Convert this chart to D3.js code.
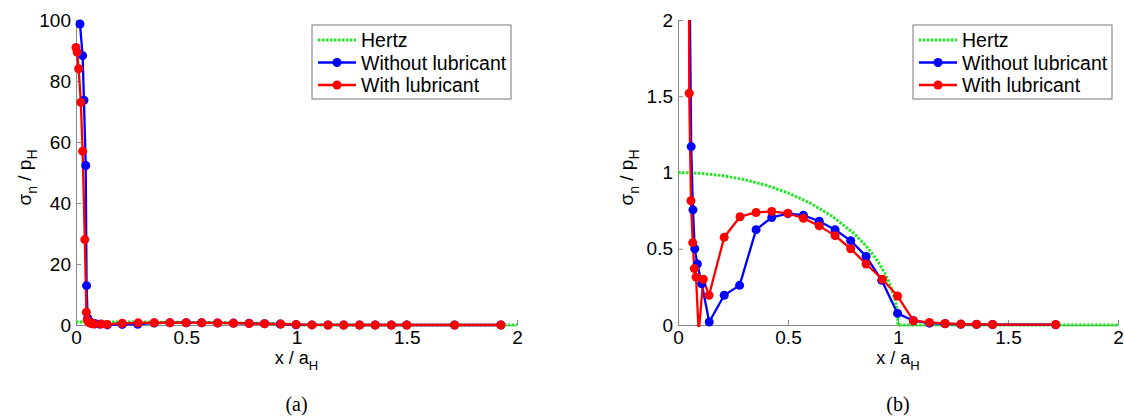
<!DOCTYPE html>
<html>
<head>
<meta charset="utf-8">
<script src="https://cdn.jsdelivr.net/npm/d3@7"></script>
<style>
body { margin: 0; background: #fff; }
text { font-family: 'Liberation Sans', Arial, sans-serif; fill: #000; }
</style>
</head>
<body>
<svg></svg>
<script>
// Hertz reference curve
const hertzX = [0, 0.1, 0.2, 0.3, 0.4, 0.5, 0.6, 0.7, 0.8, 0.85, 0.9, 0.94, 0.97, 0.985, 0.995, 0.999, 1.0, 1.5, 2.0]
const hertzY = [1, 0.995, 0.98, 0.954, 0.917, 0.866, 0.8, 0.714, 0.6, 0.527, 0.436, 0.341, 0.243, 0.173, 0.1, 0.04, 0, 0, 0]

// without lubricant
const blueX = [0.018, 0.030, 0.036, 0.044, 0.048, 0.053, 0.060, 0.068, 0.076, 0.088, 0.108, 0.142,
  0.21, 0.28, 0.355, 0.426, 0.50, 0.57, 0.642, 0.714, 0.785, 0.855, 0.926, 0.998,
  1.07, 1.143, 1.214, 1.286, 1.357, 1.43, 1.717]
const blueY = [98.7, 88.3, 73.7, 52.3, 12.9, 2.2, 1.17, 0.755, 0.50, 0.40, 0.27, 0.02,
  0.195, 0.26, 0.625, 0.705, 0.73, 0.72, 0.68, 0.625, 0.553, 0.45, 0.293, 0.076,
  0.028, 0.012, 0.008, 0.005, 0.004, 0.003, 0.002]

// with lubricant
const redX = [0.0, 0.005, 0.012, 0.022, 0.030, 0.040, 0.047, 0.051, 0.059, 0.067, 0.074, 0.082, 0.094, 0.115, 0.141,
  0.21, 0.282, 0.355, 0.426, 0.499, 0.57, 0.642, 0.714, 0.785, 0.855, 0.929, 0.998,
  1.07, 1.143, 1.214, 1.286, 1.357, 1.43, 1.717]
const redY = [91, 89.5, 84, 73, 57, 28, 4.2, 1.52, 0.815, 0.54, 0.37, 0.315, -0.05, 0.30, 0.195,
  0.575, 0.71, 0.738, 0.745, 0.732, 0.70, 0.65, 0.586, 0.50, 0.40, 0.30, 0.19,
  0.028, 0.017, 0.01, 0.006, 0.005, 0.003, 0.003]

// extra points only seen in panel (a)
const tailAX = [1.5, 1.927]
const tailARed = [0.003, 0.002]
const tailABlue = [0.002, 0.001]

const xTicks = [0, 0.5, 1, 1.5, 2]
const yTicksA = [0, 20, 40, 60, 80, 100]
const yTicksB = [0, 0.5, 1, 1.5, 2]
const legendNames = ['Hertz', 'Without lubricant', 'With lubricant']
const captions = ['(a)', '(b)']

function zip (xs, ys) { return xs.map((x, i) => ({x: x, y: ys[i]})) }
function withTail (pts, xs, ys) {
  return pts.concat(zip(xs, ys)).sort((a, b) => a.x - b.x)
}

const hertz = zip(hertzX, hertzY)
const blue = zip(blueX, blueY)
const red = zip(redX, redY)

const panels = [
  {left: 76, right: 517, yMax: 100, yTicks: yTicksA, caption: captions[0],
    blue: withTail(blue, tailAX, tailABlue), red: withTail(red, tailAX, tailARed)},
  {left: 678, right: 1118, yMax: 2, yTicks: yTicksB, caption: captions[1],
    blue: blue, red: red}
]

const plotTop = 20
const plotBottom = 325
const axisColor = '#8a8a8a'
const greenColor = '#1ee81e'

let svg = d3.select('svg').attr('width', 1124).attr('height', 419)

panels.forEach(function (p, k) {
  let g = svg.append('g')
  let x = d3.scaleLinear().domain([0, 2]).range([p.left, p.right])
  let y = d3.scaleLinear().domain([0, p.yMax]).range([plotBottom, plotTop])

  // axes
  let xa = g.append('g')
    .attr('transform', 'translate(0,' + plotBottom + ')')
    .call(d3.axisBottom(x).tickValues(xTicks).tickFormat(d => d)
      .tickSizeInner(-5).tickSizeOuter(0).tickPadding(6))
  let ya = g.append('g')
    .attr('transform', 'translate(' + p.left + ',0)')
    .call(d3.axisLeft(y).tickValues(p.yTicks).tickFormat(d => d)
      .tickSizeInner(-5).tickSizeOuter(0).tickPadding(5))
  ;[xa, ya].forEach(function (a) {
    a.select('.domain').attr('stroke', axisColor)
    a.selectAll('.tick line').attr('stroke', axisColor)
    a.selectAll('.tick text').attr('font-size', 19).attr('font-family', "'Liberation Sans', Arial, sans-serif")
  })

  // clip
  let clipId = 'clip' + k
  svg.append('clipPath').attr('id', clipId)
    .append('rect')
    .attr('x', p.left - 10).attr('y', plotTop)
    .attr('width', p.right - p.left + 20).attr('height', plotBottom - plotTop + 2)

  let line = d3.line().x(d => x(d.x)).y(d => y(d.y))
  let data = g.append('g').attr('clip-path', 'url(#' + clipId + ')')

  data.append('path')
    .attr('d', line(hertz))
    .attr('fill', 'none')
    .attr('stroke', greenColor)
    .attr('stroke-width', 3)
    .attr('stroke-dasharray', '2.5,1.5')

  ;[{pts: p.blue, c: '#0000ff'}, {pts: p.red, c: '#ff0000'}].forEach(function (s) {
    data.append('path')
      .attr('d', line(s.pts))
      .attr('fill', 'none')
      .attr('stroke', s.c)
      .attr('stroke-width', 2.3)
      .attr('stroke-linejoin', 'round')
    g.append('g').selectAll('circle')
      .data(s.pts.filter(d => d.y >= 0 && d.y <= p.yMax))
      .join('circle')
      .attr('cx', d => x(d.x))
      .attr('cy', d => y(d.y))
      .attr('r', 4.5)
      .attr('fill', s.c)
  })

  // axis labels
  let cx = (p.left + p.right) / 2
  let xl = g.append('text')
    .attr('x', cx).attr('y', 364)
    .attr('text-anchor', 'middle')
    .attr('font-size', 18)
  xl.append('tspan').text('x / a')
  xl.append('tspan').attr('dy', 6).attr('font-size', 13).text('H')

  let yl = g.append('text')
    .attr('transform', 'translate(' + (p.left - 45) + ',' + ((plotTop + plotBottom) / 2 + 5) + ') rotate(-90)')
    .attr('text-anchor', 'middle')
    .attr('font-size', 19)
  yl.append('tspan').text('σ')
  yl.append('tspan').attr('dy', 6).attr('font-size', 14).text('n')
  yl.append('tspan').attr('dy', -6).text(' / p')
  yl.append('tspan').attr('dy', 6).attr('font-size', 14).text('H')

  // caption
  g.append('text')
    .attr('x', cx).attr('y', 411)
    .attr('text-anchor', 'middle')
    .attr('font-size', 20)
    .style('font-family', "'Liberation Serif', 'DejaVu Serif', serif")
    .text(p.caption)

  // legend
  let lx = p.right - 205
  let lg = g.append('g').attr('transform', 'translate(' + lx + ',25)')
  lg.append('rect')
    .attr('width', 199).attr('height', 74)
    .attr('fill', '#fff').attr('stroke', '#777')
  let styles = [
    {c: greenColor, dash: '2.5,1.5', w: 3, marker: false},
    {c: '#0000ff', dash: null, w: 2.3, marker: true},
    {c: '#ff0000', dash: null, w: 2.3, marker: true}
  ]
  legendNames.forEach(function (name, i) {
    let ry = 15 + i * 22.5
    lg.append('line')
      .attr('x1', 6).attr('x2', 44).attr('y1', ry).attr('y2', ry)
      .attr('stroke', styles[i].c).attr('stroke-width', styles[i].w)
      .attr('stroke-dasharray', styles[i].dash)
    if (styles[i].marker) {
      lg.append('circle').attr('cx', 25).attr('cy', ry).attr('r', 4.5).attr('fill', styles[i].c)
    }
    lg.append('text')
      .attr('x', 49).attr('y', ry + 7)
      .attr('font-size', 19.5)
      .text(name)
  })
})
</script>
</body>
</html>
